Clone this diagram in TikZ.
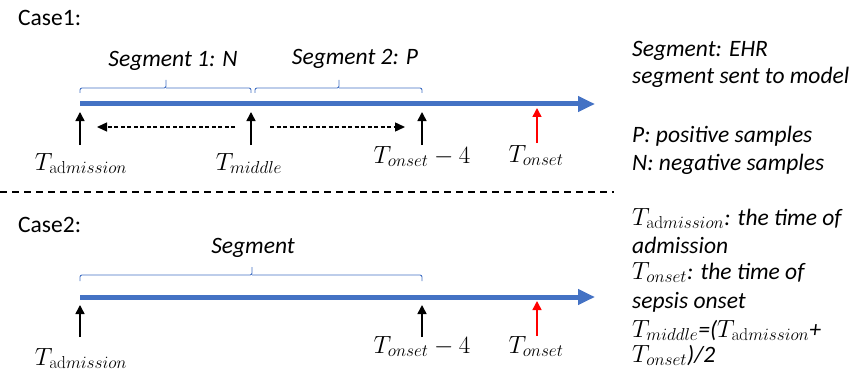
\documentclass[tikz,border=0pt]{standalone}
\usepackage[no-math]{fontspec}
\setmainfont{Carlito}
\usetikzlibrary{arrows.meta,calc}
\definecolor{tlblue}{RGB}{68,114,196}
\definecolor{onsetred}{RGB}{255,0,0}
% time symbols are set a little larger than the surrounding text
\newcommand\tsym[1]{{\fontsize{26}{30}\selectfont$#1$}}
\newcommand\Tadm{\tsym{T_{\mathrm{ad}mission}}}
\newcommand\Tons{\tsym{T_{onset}}}
\newcommand\Tmid{\tsym{T_{middle}}}
\newcommand\Tpre{\tsym{T_{onset}-4}}

\begin{document}
\begin{tikzpicture}[x=1pt,y=-1pt,
  every node/.style={inner sep=0pt, font=\fontsize{23.5}{28}\selectfont},
  plain/.style={anchor=base west},
  note/.style={anchor=base west, font=\fontsize{23.5}{28}\selectfont\itshape},
  seglabel/.style={anchor=base, font=\fontsize{23.5}{28}\selectfont\itshape},
  timelabel/.style={anchor=base},
  timeline/.style={draw=tlblue, line width=5pt, -{Triangle[length=17pt,width=15pt]}},
  bracket/.style={draw=tlblue, line width=0.9pt, rounded corners=2pt},
  tick/.style={draw=black, line width=1.5pt, -{Triangle[length=9pt,width=9pt]}},
  onsettick/.style={tick, draw=onsetred, fill=onsetred},
  midshift/.style={draw=black, line width=1.4pt, dash pattern=on 4pt off 2.5pt,
                -{Triangle[length=10pt,width=9pt]}},
  separator/.style={draw=black, line width=1.4pt, dash pattern=on 7pt off 5pt}]

\useasboundingbox (0,0) rectangle (853,377);

% ---------------- Case 1 ----------------
\node[plain] (case1) at (18,26) {Case1:};

\coordinate (adm1) at (80,104);
\coordinate (mid1) at (251,104);
\coordinate (pre1) at (422,104);
\coordinate (ons1) at (537,104);
\coordinate (end1) at (595,104);
\draw[timeline] (adm1) -- (end1);

% brackets over the two segments
\draw[bracket] (80,93) |- (166,88) -- (166,80) (166,88) -| (251,93);
\draw[bracket] (255,93) |- (339,88) -- (339,80) (339,88) -| (422,93);
\node[seglabel] (seg1) at (173,67) {Segment 1: N};
\node[seglabel] (seg2) at (355,65) {Segment 2: P};

% time markers
\coordinate (adm1b) at (80,145);
\coordinate (mid1b) at (251,145);
\coordinate (pre1b) at (422,145);
\coordinate (ons1b) at (537,143);
\draw[tick] (adm1b) -- ($(adm1)+(0,8)$);
\draw[tick] (mid1b) -- ($(mid1)+(0,8)$);
\draw[tick] (pre1b) -- ($(pre1)+(0,8)$);
\draw[onsettick] (ons1b) -- ($(ons1)+(0,4)$);

% T_middle moves between the two ends
\coordinate (dl0) at (235,127);
\coordinate (dl1) at (97,127);
\coordinate (dr0) at (270,127);
\coordinate (dr1) at (405,127);
\draw[midshift] (dl0) -- (dl1);
\draw[midshift] (dr0) -- (dr1);

\node[timelabel] (tadm1) at (81,170) {\Tadm};
\node[timelabel] (tmid1) at (249,170) {\Tmid};
\node[timelabel] (tpre1) at (422,163) {\Tpre};
\node[timelabel] (tons1) at (536,162) {\Tons};

% legend, upper part
\node[note] (leg1) at (632,57) {Segment: EHR};
\node[note] (leg2) at (632,84) {segment sent to model};
\node[note] (leg3) at (632,142) {P: positive samples};
\node[note] (leg4) at (632,170) {N: negative samples};

% ---------------- separator ----------------
\coordinate (sepL) at (0,192);
\coordinate (sepR) at (614,192);
\draw[separator] (sepL) -- (sepR);

% ---------------- Case 2 ----------------
\node[plain] (case2) at (18,232) {Case2:};

\coordinate (adm2) at (80,297);
\coordinate (pre2) at (422,297);
\coordinate (ons2) at (537,297);
\coordinate (end2) at (595,297);
\draw[timeline] (adm2) -- (end2);

\draw[bracket] (80,281) |- (252,275) -- (252,267) (252,275) -| (422,281);
\node[seglabel] (seg) at (253,253) {Segment};

\coordinate (adm2b) at (80,337);
\coordinate (pre2b) at (422,337);
\coordinate (ons2b) at (537,336);
\draw[tick] (adm2b) -- ($(adm2)+(0,8)$);
\draw[tick] (pre2b) -- ($(pre2)+(0,8)$);
\draw[onsettick] (ons2b) -- ($(ons2)+(0,4)$);

\node[timelabel] (tadm2) at (81,365) {\Tadm};
\node[timelabel] (tpre2) at (422,353) {\Tpre};
\node[timelabel] (tons2) at (536,353) {\Tons};

% legend, lower part
\node[note] (leg5) at (632,225) {\Tadm: the time of};
\node[note] (leg6) at (632,253) {admission};
\node[note] (leg7) at (632,279) {\Tons: the time of};
\node[note] (leg8) at (632,308) {sepsis onset};
\node[note] (leg9) at (632,337) {\Tmid=(\Tadm+};
\node[note] (leg10) at (632,362) {\Tons)/2};
\end{tikzpicture}
\end{document}
